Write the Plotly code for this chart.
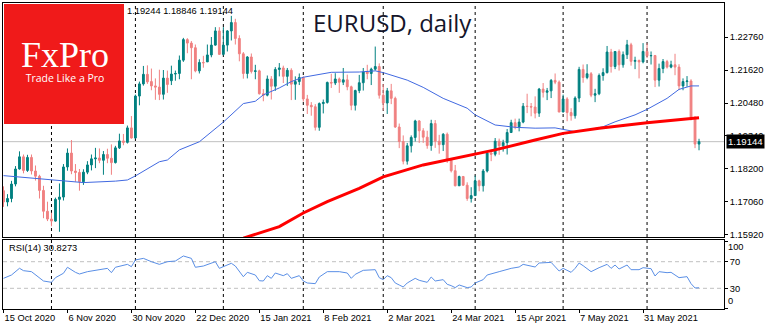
import pandas as pd
import plotly.graph_objects as go

# ---- EURUSD daily bars, 15 Oct 2020 .. 18 Jun 2021 (broker closed 25 Dec and 1 Jan) ----
dates = pd.bdate_range("2020-10-15", "2021-06-18", freq="C",
                       holidays=["2020-12-25", "2021-01-01"])

opens = [
    # Oct
    1.1745, 1.1706, 1.1718, 1.1768, 1.1820, 1.1862, 1.1815, 1.1860, 1.1813, 1.1795, 1.1746, 1.1674,
    # Nov
    1.1647, 1.1640, 1.1715, 1.1723, 1.1827, 1.1875, 1.1813, 1.1808, 1.1776, 1.1809, 1.1834,
    1.1855, 1.1858, 1.1850, 1.1870, 1.1857, 1.1842, 1.1893, 1.1917, 1.1912, 1.1962,
    # Dec
    1.1927, 1.2072, 1.2114, 1.2147, 1.2122, 1.2107, 1.2103, 1.2078, 1.2134, 1.2125, 1.2148,
    1.2150, 1.2196, 1.2267, 1.2255, 1.2239, 1.2159, 1.2188, 1.2190, 1.2214, 1.2248, 1.2297,
    # Jan
    1.2216, 1.2248, 1.2297, 1.2326, 1.2271, 1.2218, 1.2150, 1.2207, 1.2157, 1.2159,
    1.2080, 1.2075, 1.2131, 1.2106, 1.2164, 1.2169, 1.2140, 1.2161, 1.2113, 1.2122,
    # Feb
    1.2136, 1.2062, 1.2040, 1.2035, 1.1964, 1.2046, 1.2050, 1.2119, 1.2117, 1.2131,
    1.2120, 1.2128, 1.2104, 1.2040, 1.2091, 1.2118, 1.2155, 1.2150, 1.2165, 1.2174,
    # Mar
    1.2075, 1.2048, 1.2090, 1.2064, 1.1965, 1.1915, 1.1847, 1.1900, 1.1929, 1.1986, 1.1952, 1.1930,
    1.1901, 1.1977, 1.1916, 1.1904, 1.1940, 1.1850, 1.1814, 1.1762, 1.1794, 1.1764, 1.1718,
    # Apr
    1.1728, 1.1779, 1.1762, 1.1813, 1.1875, 1.1871, 1.1916, 1.1900, 1.1911, 1.1946, 1.1980,
    1.1966, 1.1982, 1.2037, 1.2036, 1.2034, 1.2013, 1.2096, 1.2085, 1.2090, 1.2126, 1.2120,
    # May
    1.2017, 1.2062, 1.2015, 1.2004, 1.2065, 1.2164, 1.2136, 1.2149, 1.2075, 1.2080, 1.2143,
    1.2153, 1.2224, 1.2174, 1.2226, 1.2180, 1.2215, 1.2249, 1.2192, 1.2195, 1.2190,
    # Jun
    1.2226, 1.2211, 1.2212, 1.2127, 1.2167, 1.2191, 1.2172, 1.2180, 1.2172, 1.2107,
    1.2122, 1.2124, 1.1998, 1.1906,
]
highs = [
    1.1760, 1.1733, 1.1779, 1.1830, 1.1881, 1.1870, 1.1869, 1.1870, 1.1832, 1.1800, 1.1762, 1.1707,
    1.1669, 1.1721, 1.1770, 1.1837, 1.1891, 1.1920, 1.1837, 1.1820, 1.1819, 1.1847, 1.1870,
    1.1893, 1.1891, 1.1882, 1.1890, 1.1905, 1.1900, 1.1942, 1.1941, 1.1970, 1.2003,
    1.2077, 1.2122, 1.2176, 1.2178, 1.2167, 1.2133, 1.2163, 1.2162, 1.2160, 1.2177, 1.2160,
    1.2212, 1.2273, 1.2272, 1.2262, 1.2250, 1.2199, 1.2211, 1.2250, 1.2276, 1.2310, 1.2310,
    1.2310, 1.2300, 1.2349, 1.2339, 1.2282, 1.2224, 1.2210, 1.2219, 1.2180, 1.2163,
    1.2096, 1.2143, 1.2141, 1.2172, 1.2186, 1.2177, 1.2169, 1.2168, 1.2140, 1.2150,
    1.2140, 1.2076, 1.2051, 1.2044, 1.2050, 1.2060, 1.2122, 1.2149, 1.2151, 1.2136,
    1.2169, 1.2146, 1.2108, 1.2094, 1.2145, 1.2169, 1.2180, 1.2170, 1.2243, 1.2185,
    1.2113, 1.2100, 1.2114, 1.2070, 1.1977, 1.1936, 1.1910, 1.1936, 1.1990, 1.1989, 1.1961, 1.1952,
    1.1990, 1.1989, 1.1938, 1.1944, 1.1946, 1.1854, 1.1834, 1.1797, 1.1796, 1.1774, 1.1757,
    1.1797, 1.1783, 1.1820, 1.1880, 1.1887, 1.1927, 1.1925, 1.1921, 1.1958, 1.1990, 1.1994,
    1.1994, 1.2048, 1.2080, 1.2048, 1.2071, 1.2100, 1.2117, 1.2100, 1.2131, 1.2150, 1.2126,
    1.2077, 1.2068, 1.2030, 1.2071, 1.2173, 1.2181, 1.2182, 1.2155, 1.2097, 1.2150, 1.2168,
    1.2245, 1.2235, 1.2227, 1.2233, 1.2226, 1.2266, 1.2256, 1.2208, 1.2198, 1.2255,
    1.2254, 1.2226, 1.2214, 1.2184, 1.2200, 1.2197, 1.2194, 1.2218, 1.2182, 1.2133,
    1.2141, 1.2130, 1.2003, 1.19244,
]
lows = [
    1.1689, 1.1691, 1.1705, 1.1760, 1.1818, 1.1805, 1.1810, 1.1801, 1.1780, 1.1718, 1.1650, 1.1640,
    1.1622, 1.1638, 1.1603, 1.1711, 1.1814, 1.1802, 1.1776, 1.1745, 1.1765, 1.1802, 1.1815,
    1.1823, 1.1840, 1.1800, 1.1840, 1.1800, 1.1839, 1.1889, 1.1902, 1.1908, 1.1925,
    1.1925, 1.2040, 1.2108, 1.2114, 1.2092, 1.2059, 1.2058, 1.2060, 1.2083, 1.2110, 1.2125,
    1.2130, 1.2190, 1.2220, 1.2130, 1.2154, 1.2150, 1.2170, 1.2190, 1.2206, 1.2246, 1.2214,
    1.2212, 1.2226, 1.2264, 1.2250, 1.2192, 1.2132, 1.2133, 1.2150, 1.2130, 1.2077,
    1.2054, 1.2071, 1.2060, 1.2090, 1.2140, 1.2117, 1.2107, 1.2058, 1.2059, 1.2110,
    1.2053, 1.2010, 1.2004, 1.1953, 1.1952, 1.2012, 1.2046, 1.2100, 1.2110, 1.2083,
    1.2110, 1.2092, 1.2023, 1.2022, 1.2082, 1.2091, 1.2130, 1.2110, 1.2160, 1.2063,
    1.2022, 1.2010, 1.2044, 1.1962, 1.1892, 1.1836, 1.1835, 1.1877, 1.1915, 1.1910, 1.1910, 1.1890,
    1.1883, 1.1893, 1.1873, 1.1882, 1.1841, 1.1808, 1.1760, 1.1762, 1.1762, 1.1710, 1.1704,
    1.1728, 1.1743, 1.1742, 1.1808, 1.1847, 1.1864, 1.1869, 1.1880, 1.1870, 1.1945, 1.1957,
    1.1950, 1.1978, 1.2013, 1.2002, 1.1995, 1.2000, 1.2067, 1.2058, 1.2065, 1.2113, 1.2016,
    1.2016, 1.1985, 1.1987, 1.1994, 1.2051, 1.2118, 1.2130, 1.2068, 1.2051, 1.2075, 1.2125,
    1.2150, 1.2153, 1.2165, 1.2160, 1.2170, 1.2200, 1.2177, 1.2165, 1.2133, 1.2185,
    1.2203, 1.2181, 1.2103, 1.2105, 1.2151, 1.2167, 1.2168, 1.2144, 1.2093, 1.2092,
    1.2104, 1.1988, 1.1892, 1.18846,
]
closes = [
    1.1706, 1.1718, 1.1768, 1.1820, 1.1862, 1.1815, 1.1860, 1.1813, 1.1795, 1.1746, 1.1674, 1.1647,
    1.1640, 1.1715, 1.1723, 1.1827, 1.1875, 1.1813, 1.1808, 1.1776, 1.1809, 1.1834, 1.1855,
    1.1858, 1.1850, 1.1870, 1.1857, 1.1842, 1.1893, 1.1917, 1.1912, 1.1962, 1.1927,
    1.2072, 1.2114, 1.2147, 1.2121, 1.2107, 1.2103, 1.2078, 1.2134, 1.2112, 1.2148, 1.2150,
    1.2196, 1.2267, 1.2255, 1.2239, 1.2159, 1.2188, 1.2187, 1.2214, 1.2248, 1.2297, 1.2216,
    1.2248, 1.2297, 1.2326, 1.2271, 1.2218, 1.2150, 1.2207, 1.2157, 1.2159, 1.2080,
    1.2075, 1.2131, 1.2106, 1.2164, 1.2169, 1.2140, 1.2161, 1.2113, 1.2122, 1.2136,
    1.2062, 1.2040, 1.2035, 1.1964, 1.2046, 1.2050, 1.2119, 1.2117, 1.2131, 1.2120,
    1.2128, 1.2104, 1.2040, 1.2091, 1.2118, 1.2155, 1.2150, 1.2165, 1.2174, 1.2075,
    1.2048, 1.2090, 1.2064, 1.1965, 1.1915, 1.1847, 1.1900, 1.1929, 1.1986, 1.1952, 1.1930, 1.1901,
    1.1977, 1.1916, 1.1904, 1.1940, 1.1850, 1.1814, 1.1762, 1.1794, 1.1764, 1.1718, 1.1728,
    1.1779, 1.1762, 1.1813, 1.1875, 1.1871, 1.1916, 1.1900, 1.1911, 1.1946, 1.1980, 1.1966,
    1.1982, 1.2037, 1.2036, 1.2034, 1.2013, 1.2096, 1.2085, 1.2090, 1.2126, 1.2120, 1.2017,
    1.2062, 1.2015, 1.2004, 1.2065, 1.2164, 1.2136, 1.2149, 1.2075, 1.2080, 1.2143, 1.2153,
    1.2224, 1.2174, 1.2226, 1.2180, 1.2215, 1.2249, 1.2192, 1.2195, 1.2190, 1.2226,
    1.2211, 1.2212, 1.2127, 1.2167, 1.2191, 1.2172, 1.2180, 1.2172, 1.2107, 1.2122,
    1.2124, 1.1998, 1.1906, 1.19144,
]

# Moving averages, sampled per bar index: 50-period (blue) and 200-period (red)
ma50_bar = [0, 12, 20, 28, 31, 33, 39, 41, 44, 49, 55, 60, 63, 65, 69, 72, 75, 82, 89, 93, 95,
            101, 105, 110, 116, 118, 123, 128, 133, 138, 140, 143, 147, 150, 153, 158, 161,
            166, 169, 172, 174]
ma50_val = [1.1797, 1.1782, 1.1773, 1.1778, 1.1782, 1.1796, 1.1845, 1.1851, 1.1886, 1.1914,
            1.1982, 1.2046, 1.2054, 1.2076, 1.2100, 1.2122, 1.2137, 1.2154, 1.2155, 1.2159,
            1.2153, 1.2127, 1.2102, 1.2064, 1.2030, 1.2007, 1.1972, 1.1964, 1.1961, 1.1962,
            1.1957, 1.1949, 1.1957, 1.1966, 1.1983, 1.2007, 1.2026, 1.2064, 1.2095, 1.2107,
            1.2107]
ma200_bar = [60, 69, 75, 81, 89, 95, 105, 113, 118, 123, 133, 140, 149, 159, 161, 174]
ma200_val = [1.1581, 1.1621, 1.1668, 1.1707, 1.1753, 1.1793, 1.1834, 1.1857, 1.1872, 1.1886,
             1.1920, 1.1943, 1.1961, 1.1978, 1.1980, 1.1997]

# RSI(14), sampled per bar index
rsi_bar = [0, 2, 4, 5, 7, 8, 10, 12, 13, 15, 16, 18, 19, 21, 24, 26, 27, 28, 31, 32, 33, 35,
           37, 39, 41, 43, 45, 47, 48, 50, 53, 54, 57, 58, 60, 61, 63, 64,
           65, 66, 67, 68, 70, 71, 72, 74, 75, 76, 78, 79, 81, 84, 86, 87, 88, 90, 93, 94,
           95, 96, 97, 98, 99, 100, 101, 103, 104, 106, 107, 108, 110, 111, 112, 113, 114,
           116, 117, 118, 120, 121, 124, 127, 129, 130, 133, 134, 137, 139, 140, 142, 143,
           144, 145, 147, 149, 151, 152, 153, 154, 156, 157, 159, 160, 162, 163, 164, 166,
           167, 169, 171, 172, 173, 174]
rsi_val = [45.0, 50.0, 60.1, 56.5, 55.0, 50.0, 41.0, 39.0, 46.0, 52.6, 61.6, 54.0, 51.5, 55.0,
           58.6, 60.0, 53.5, 61.6, 66.0, 62.5, 72.6, 75.0, 70.0, 66.0, 70.0, 71.0, 78.6, 75.0,
           61.6, 63.5, 70.0, 60.0, 67.6, 63.5, 47.4, 54.0, 50.0, 41.4,
           41.0, 49.0, 45.0, 53.0, 49.0, 52.0, 45.0, 49.0, 41.0, 38.0, 37.0, 47.0, 55.0, 55.0,
           53.0, 45.0, 51.0, 57.0, 58.0, 46.0,
           43.0, 49.0, 46.0, 38.0, 35.0, 32.0, 38.0, 45.0, 42.0, 39.0, 47.0, 41.0, 43.0, 36.0,
           34.0, 31.0, 35.0, 31.0, 32.0, 38.0, 43.0, 50.0, 55.0, 60.0, 62.0, 66.0, 62.0, 68.0,
           69.0, 56.0, 60.0, 54.0, 60.0, 68.0, 64.0, 55.0, 61.0, 66.0, 60.0, 65.0, 59.0, 65.0,
           58.0, 58.0, 61.0, 59.5, 48.5, 55.0, 53.5, 54.0, 46.0, 47.5, 37.0, 30.5, 30.8273]

price_ticks = [1.15920, 1.17060, 1.18200, 1.19340, 1.20480, 1.21620, 1.22760]
rsi_levels = [30, 70]

BULL = "#008080"
BEAR = "#F08080"
LABEL_FONT = dict(family="Liberation Sans, Arial, sans-serif", size=9.3, color="#000000")

bars = list(range(len(dates)))
label_bars = list(range(0, len(dates), 16))
label_text = [f"{dates[i].day} {dates[i]:%b %Y}" for i in label_bars]
month_starts = [i for i in bars[1:] if dates[i].month != dates[i - 1].month]

# plot area in pixels: x 3..724, y 3..309 (price pane 3..237, RSI pane 240..309)
W, H = 770, 330
L, R, T, B = 3, 724, 3, 309
def px_x(px):
    return (px - L) / (R - L)
def px_y(py):
    return (B - py) / (B - T)

x_range = [-0.125, 180.25]

fig = go.Figure()

fig.add_trace(go.Candlestick(
    x=bars, open=opens, high=highs, low=lows, close=closes,
    increasing=dict(line=dict(color=BULL, width=1), fillcolor=BULL),
    decreasing=dict(line=dict(color=BEAR, width=1), fillcolor=BEAR),
    whiskerwidth=0, xaxis="x", yaxis="y", hoverinfo="skip", showlegend=False,
))
fig.add_trace(go.Scatter(x=ma50_bar, y=ma50_val, mode="lines",
                         line=dict(color="#4169E1", width=1), xaxis="x", yaxis="y",
                         hoverinfo="skip", showlegend=False))
fig.add_trace(go.Scatter(x=ma200_bar, y=ma200_val, mode="lines",
                         line=dict(color="#FF0000", width=3), xaxis="x", yaxis="y",
                         hoverinfo="skip", showlegend=False))
fig.add_trace(go.Scatter(x=rsi_bar, y=rsi_val, mode="lines",
                         line=dict(color="#5A8FE6", width=1), xaxis="x2", yaxis="y2",
                         hoverinfo="skip", showlegend=False))

shapes = []
# month separators through both panes
for m in month_starts:
    shapes.append(dict(type="line", xref="x", yref="paper", x0=m, x1=m, y0=0, y1=1,
                       line=dict(color="#000000", width=1, dash="3px,3px"), layer="below"))
# last price line
shapes.append(dict(type="line", xref="x domain", yref="y", x0=0, x1=1,
                   y0=closes[-1], y1=closes[-1],
                   line=dict(color="#C0C0C0", width=1), layer="below"))
# RSI levels
for lv in rsi_levels:
    shapes.append(dict(type="line", xref="x2 domain", yref="y2", x0=0, x1=1, y0=lv, y1=lv,
                       line=dict(color="#C0C0C0", width=1, dash="4px,3px"), layer="below"))
# FxPro badge
shapes.append(dict(type="rect", xref="paper", yref="paper",
                   x0=px_x(4), x1=px_x(124), y0=px_y(124), y1=px_y(4),
                   fillcolor="#F01A1A", line=dict(width=0), layer="above"))

badge_text = ('<span style="font-family:Liberation Serif, Times New Roman, serif;'
              'font-size:36px">FxPro</span><br>'
              '<span style="font-size:10.5px">Trade Like a Pro</span>')

annotations = [
    dict(text=badge_text, xref="paper", yref="paper", x=px_x(64.5), y=px_y(60),
         xanchor="center", yanchor="middle", showarrow=False, align="center",
         font=dict(family="Open Sans, sans-serif", size=11.8, color="#FFFFFF")),
    dict(text=f"{highs[-1]:.5f} {lows[-1]:.5f} {closes[-1]:.5f}", xref="paper", yref="paper",
         x=px_x(124.5), y=px_y(11), xanchor="left", yanchor="middle", showarrow=False,
         font=LABEL_FONT),
    dict(text="EURUSD, daily", xref="paper", yref="paper", x=px_x(311), y=px_y(22),
         xanchor="left", yanchor="middle", showarrow=False,
         font=dict(family="Open Sans, sans-serif", size=24, color="#15152a")),
    dict(text=f"RSI(14) {rsi_val[-1]:.4f}", xref="paper", yref="paper",
         x=px_x(7), y=px_y(248), xanchor="left", yanchor="middle", showarrow=False,
         font=LABEL_FONT),
    dict(text=f"{closes[-1]:.5f}", xref="paper", yref="y", x=px_x(726), y=closes[-1],
         xanchor="left", yanchor="middle", showarrow=False, bgcolor="#000000",
         borderpad=1, font=dict(family="Liberation Sans, Arial, sans-serif", size=9.6,
                                color="#FFFFFF")),
    dict(text="100", xref="paper", yref="y2", x=px_x(726), y=100, yshift=-5,
         xanchor="left", yanchor="middle", showarrow=False, font=LABEL_FONT),
    dict(text="0", xref="paper", yref="y2", x=px_x(726), y=0, yshift=7,
         xanchor="left", yanchor="middle", showarrow=False, font=LABEL_FONT),
]

axis_common = dict(showgrid=False, zeroline=False, showline=True, mirror=True,
                   linecolor="#000000", linewidth=1, tickcolor="#000000", tickfont=LABEL_FONT)

fig.update_layout(
    width=W, height=H, autosize=False,
    margin=dict(l=L, r=W - R, t=T, b=H - B),
    paper_bgcolor="#FFFFFF", plot_bgcolor="#FFFFFF",
    boxgap=0.35,
    showlegend=False,
    xaxis=dict(domain=[0, 1], anchor="y", range=x_range, showticklabels=False, ticks="",
               rangeslider=dict(visible=False), **axis_common),
    xaxis2=dict(domain=[0, 1], anchor="y2", matches="x", range=x_range,
                tickvals=label_bars, ticktext=label_text, ticks="outside", ticklen=3,
                ticklabelposition="outside right", **axis_common),
    yaxis=dict(domain=[px_y(237), 1], anchor="x", side="right", range=[1.1585, 1.23935],
               tickvals=price_ticks, tickformat=".5f", ticks="outside", ticklen=3,
               **axis_common),
    yaxis2=dict(domain=[0, px_y(240)], anchor="x2", side="right", range=[-1.1, 102.6],
                tickvals=[0, 30, 70, 100], ticktext=["", "30", "70", ""],
                ticks="outside", ticklen=3, **axis_common),
    shapes=shapes,
    annotations=annotations,
)

fig.write_html("out.html")
